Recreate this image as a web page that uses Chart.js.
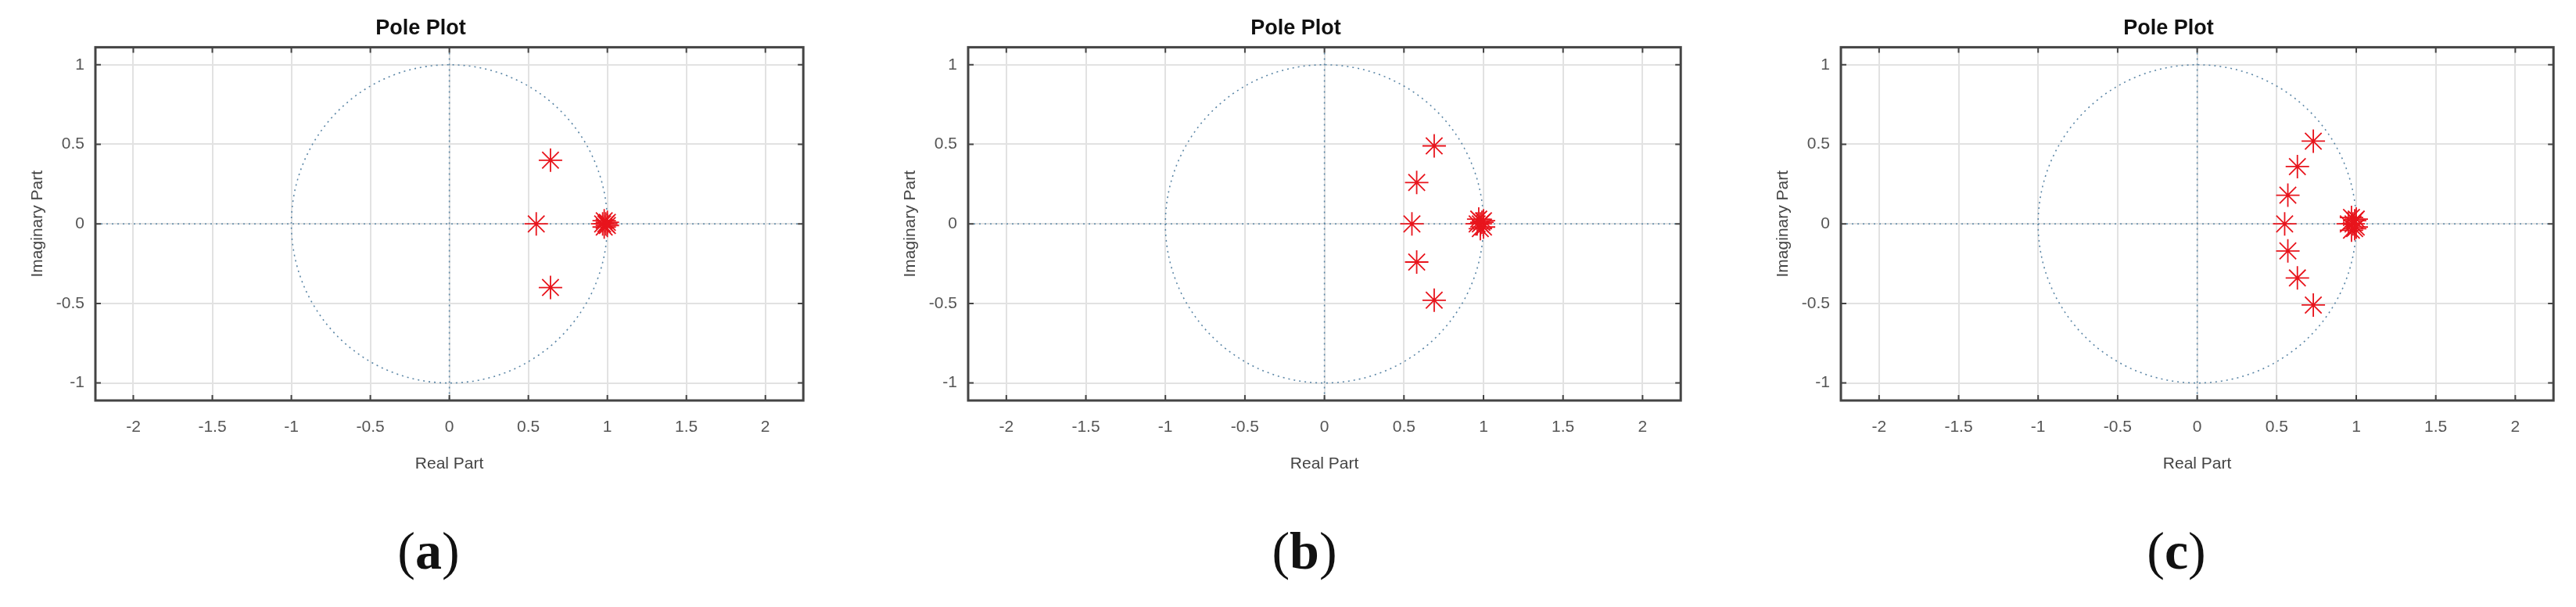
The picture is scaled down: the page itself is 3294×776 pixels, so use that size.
<!DOCTYPE html>
<html><head><meta charset="utf-8">
<script src="https://cdn.jsdelivr.net/npm/chart.js@4/dist/chart.umd.min.js"></script>
<style>
body{margin:0;background:#fff;width:3294px;height:776px;position:relative;overflow:hidden;font-family:"Liberation Sans",Arial,sans-serif}
.wrap{position:absolute;top:0;width:1040px;height:610px}
.lbl{position:absolute;top:665px;font-family:"Liberation Serif","DejaVu Serif",serif;font-size:68px;color:#111;transform:translateX(-50%)}
.lbl b{font-weight:bold}
</style></head><body>
<div class="wrap" style="left:32px"><canvas id="ca"></canvas></div>
<div class="wrap" style="left:1148px"><canvas id="cb"></canvas></div>
<div class="wrap" style="left:2264px"><canvas id="cc"></canvas></div>
<div class="lbl" style="left:548px">(<b>a</b>)</div>
<div class="lbl" style="left:1668px">(<b>b</b>)</div>
<div class="lbl" style="left:2783px">(<b>c</b>)</div>
<script>
const panelLabels = ["a","b","c"];
const xTicks = [-2,-1.5,-1,-0.5,0,0.5,1,1.5,2];
const yTicks = [-1,-0.5,0,0.5,1];
const polesA_re = [0.55,0.64,0.64,0.97,0.98,0.98,0.99,1.00,1.00];
const polesA_im = [0,0.40,-0.40,0,0.02,-0.02,0,0.01,-0.01];
const polesB_re = [0.69,0.58,0.55,0.58,0.69,0.96,0.97,0.98,0.98,0.99,1.00,1.00];
const polesB_im = [0.49,0.26,0,-0.24,-0.48,0,0.03,-0.03,0,0.01,0.02,-0.02];
const polesC_re = [0.73,0.63,0.57,0.55,0.57,0.63,0.73,0.95,0.97,0.97,0.98,0.99,0.99,1.00,1.00];
const polesC_im = [0.52,0.36,0.18,0,-0.17,-0.34,-0.51,0,0.04,-0.04,0,0.02,-0.03,0.03,-0.02];

const frame = {
  id:'frame',
  beforeDatasetsDraw(ch){
    const {ctx,chartArea:a,scales:{x,y}}=ch;
    ctx.save();
    ctx.beginPath();ctx.rect(a.left,a.top,a.right-a.left,a.bottom-a.top);ctx.clip();
    ctx.strokeStyle='#5b86a6';ctx.lineWidth=1.6;ctx.setLineDash([2,5]);
    const cx=x.getPixelForValue(0),cy=y.getPixelForValue(0);
    const rx=x.getPixelForValue(1)-cx, ry=cy-y.getPixelForValue(1);
    ctx.beginPath();ctx.ellipse(cx,cy,rx,ry,0,0,Math.PI*2);ctx.stroke();
    ctx.beginPath();ctx.moveTo(a.left,cy);ctx.lineTo(a.right,cy);ctx.moveTo(cx,a.top);ctx.lineTo(cx,a.bottom);ctx.stroke();
    ctx.restore();
  },
  afterDraw(ch){
    const {ctx,chartArea:a,scales:{x,y}}=ch;
    ctx.save();ctx.strokeStyle='#444';ctx.lineWidth=3;
    ctx.strokeRect(a.left,a.top,a.right-a.left,a.bottom-a.top);
    ctx.lineWidth=2;
    xTicks.forEach(v=>{const p=x.getPixelForValue(v);ctx.beginPath();ctx.moveTo(p,a.bottom);ctx.lineTo(p,a.bottom-7);ctx.moveTo(p,a.top);ctx.lineTo(p,a.top+7);ctx.stroke();});
    yTicks.forEach(v=>{const p=y.getPixelForValue(v);ctx.beginPath();ctx.moveTo(a.left,p);ctx.lineTo(a.left+7,p);ctx.moveTo(a.right,p);ctx.lineTo(a.right-7,p);ctx.stroke();});
    ctx.restore();
  }
};

function make(id,re,im){
  const pts=re.map((v,i)=>({x:v,y:im[i]}));
  new Chart(document.getElementById(id),{
    type:'scatter',
    data:{datasets:[{data:pts,pointStyle:'star',pointRadius:15,pointHoverRadius:15,borderColor:'#e8141c',backgroundColor:'#e8141c',borderWidth:1.8}]},
    plugins:[frame],
    options:{
      responsive:false,animation:false,devicePixelRatio:1,
      layout:{padding:0},
      plugins:{legend:{display:false},tooltip:{enabled:false},
        title:{display:true,text:'Pole Plot',color:'#111',font:{family:'Liberation Sans',size:27,weight:'bold'},padding:{top:20,bottom:8}}},
      scales:{
        x:{type:'linear',min:-2.24,max:2.24,
          afterBuildTicks:s=>{s.ticks=xTicks.map(v=>({value:v}));},
          afterFit:s=>{s.height=98;},
          grid:{color:'#e2e2e2',lineWidth:2,drawTicks:false},border:{display:false},
          ticks:{color:'#555',font:{family:'Liberation Sans',size:21},padding:22,callback:v=>String(v)},
          title:{display:true,text:'Real Part',color:'#444',font:{family:'Liberation Sans',size:21},padding:{top:8}}},
        y:{type:'linear',min:-1.11,max:1.11,
          afterBuildTicks:s=>{s.ticks=yTicks.map(v=>({value:v}));},
          afterFit:s=>{s.width=90;},
          grid:{color:'#e2e2e2',lineWidth:2,drawTicks:false},border:{display:false},
          ticks:{color:'#555',font:{family:'Liberation Sans',size:21},padding:14,callback:v=>String(v)},
          title:{display:true,text:'Imaginary Part',color:'#444',font:{family:'Liberation Sans',size:21},padding:{bottom:4}}}
      }
    }
  });
}
document.querySelectorAll('canvas').forEach(c=>{c.width=1012;c.height=610;});
make('ca',polesA_re,polesA_im);
document.getElementById('cb').width=1018;document.getElementById('cc').width=1018;
make('cb',polesB_re,polesB_im);
make('cc',polesC_re,polesC_im);
</script></body></html>
